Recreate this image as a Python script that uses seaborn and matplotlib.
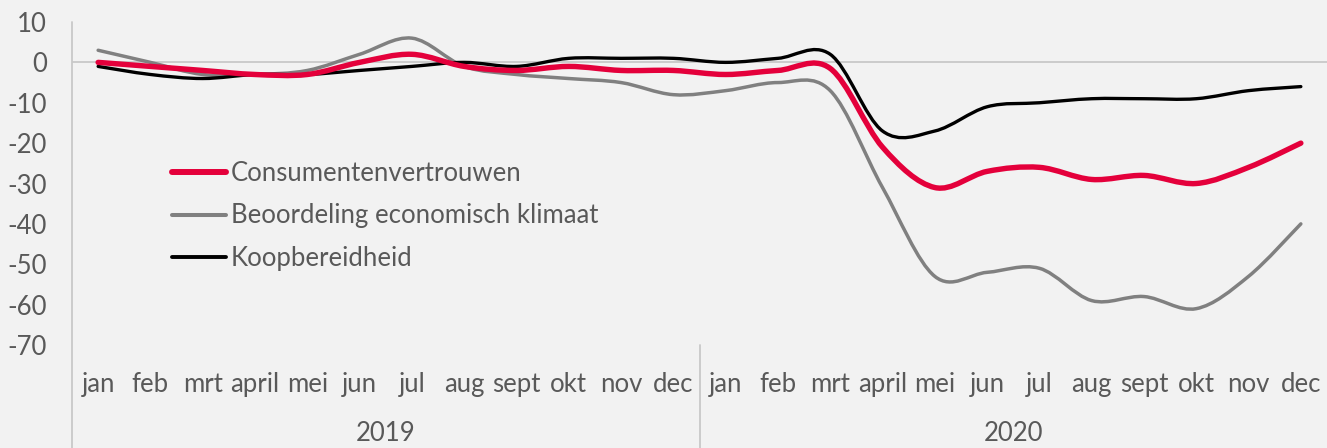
import numpy as np
import pandas as pd
import matplotlib
matplotlib.use("Agg")
import matplotlib.pyplot as plt
import seaborn as sns
from matplotlib.path import Path
from matplotlib.patches import PathPatch
from matplotlib.lines import Line2D
import matplotlib.transforms as mtransforms

# ---------------- data ----------------
months = ["jan", "feb", "mrt", "april", "mei", "jun", "jul", "aug", "sept", "okt", "nov", "dec"]
years = ["2019", "2020"]
series_names = ["Consumentenvertrouwen", "Beoordeling economisch klimaat", "Koopbereidheid"]
consumentenvertrouwen = [0, -1, -2, -3, -3, 0, 2, -1, -2, -1, -2, -2,
                         -3, -2, -1.5, -21, -31, -27, -26, -29, -28, -30, -26, -20]
beoordeling = [3, 0, -3, -3, -2, 2, 6, -1, -3, -4, -5, -8,
               -7, -5, -7, -31, -53, -52, -51, -59, -58, -61, -53, -40]
koopbereidheid = [-1, -3, -4, -3, -3, -2, -1, 0, -1, 1, 1, 1,
                  0, 1, 2, -17, -17, -11, -10, -9, -9, -9, -7, -6]
yticks = [-70, -60, -50, -40, -30, -20, -10, 0, 10]

colors = ["#E4003B", "#808080", "#000000"]
widths = [3.9, 2.5, 2.4]
text_color = "#595959"
bg = "#F2F2F2"
grid_color = "#C8C8C8"

sns.set_theme(style="white")
plt.rcParams["font.family"] = ["Lato", "DejaVu Sans"]
FS = 18.5

W, H = 1327, 448
fig = plt.figure(figsize=(W / 100, H / 100), dpi=100, facecolor=bg)
ax_left, ax_right, ax_top, ax_bottom = 72, 1327, 22, 345
ax = fig.add_axes([ax_left / W, (H - ax_bottom) / H, (ax_right - ax_left) / W, (ax_bottom - ax_top) / H])
ax.set_facecolor(bg)

labels_all = [f"{m} {y}" for y in years for m in months]
pos = np.arange(len(labels_all)) + 0.5
df = pd.concat([
    pd.DataFrame({"pos": pos, "value": vals, "serie": name})
    for name, vals in zip(series_names, [consumentenvertrouwen, beoordeling, koopbereidheid])
])

sns.lineplot(data=df, x="pos", y="value", hue="serie", hue_order=series_names,
             palette=colors, ax=ax, legend=False, sort=False)

# smooth the seaborn lines (Excel-like smoothing via Catmull-Rom -> Bezier)
lines = list(ax.lines)
for line, c, lw, z in zip(lines, colors, widths, [4, 2, 3]):
    xy = line.get_xydata()
    line.set_visible(False)
    n = len(xy)
    verts = [xy[0]]
    codes = [Path.MOVETO]
    for i in range(n - 1):
        p0 = xy[i - 1] if i > 0 else xy[i]
        p1 = xy[i]
        p2 = xy[i + 1]
        p3 = xy[i + 2] if i + 2 < n else xy[i + 1]
        c1 = p1 + (p2 - p0) / 6.0
        c2 = p2 - (p3 - p1) / 6.0
        verts += [c1, c2, p2]
        codes += [Path.CURVE4] * 3
    patch = PathPatch(Path(verts, codes), facecolor="none", edgecolor=c, lw=lw,
                      capstyle="round", joinstyle="round", zorder=z)
    ax.add_patch(patch)

ax.set_xlim(0, 24)
ax.set_ylim(-70, 10)
for s in ax.spines.values():
    s.set_visible(False)

ax.set_yticks(yticks)
ax.set_yticklabels([str(v) for v in yticks], color=text_color, fontsize=FS)
ax.tick_params(axis="y", length=0, pad=18)
ax.set_xticks([])
ax.set_xlabel("")
ax.set_ylabel("")

# zero line and category separators
ax.axhline(0, color=grid_color, lw=1.3, zorder=1)
ybot = -(H - ax_bottom) / (ax_bottom - ax_top)
ax.axvline(0, ymin=ybot, ymax=1, color=grid_color, lw=1.3, clip_on=False)
ax.axvline(12, ymin=ybot, ymax=0, color=grid_color, lw=1.3, clip_on=False)

# month and year labels
trans = mtransforms.blended_transform_factory(ax.transData, ax.transAxes)
def fy(px):
    return (ax_bottom - px) / (ax_bottom - ax_top)
for p, lab in zip(pos, months * 2):
    ax.text(p, fy(392), lab, transform=trans, ha="center", va="baseline",
            color=text_color, fontsize=FS)
for k, y in enumerate(years):
    ax.text(6 + 12 * k, fy(441), y, transform=trans, ha="center", va="baseline",
            color=text_color, fontsize=FS)

# legend
handles = [Line2D([], [], color=c, lw=lw + 0.4, solid_capstyle="round") for c, lw in zip(colors, widths)]
leg = ax.legend(handles, series_names, loc="center left",
                bbox_to_anchor=((172 - ax_left) / (ax_right - ax_left), fy(216)),
                frameon=False, fontsize=FS, handlelength=2.1, handletextpad=0.2,
                labelspacing=0.67, borderpad=0, borderaxespad=0)
for t in leg.get_texts():
    t.set_color(text_color)

fig.savefig("out.png", dpi=100, facecolor=bg)
